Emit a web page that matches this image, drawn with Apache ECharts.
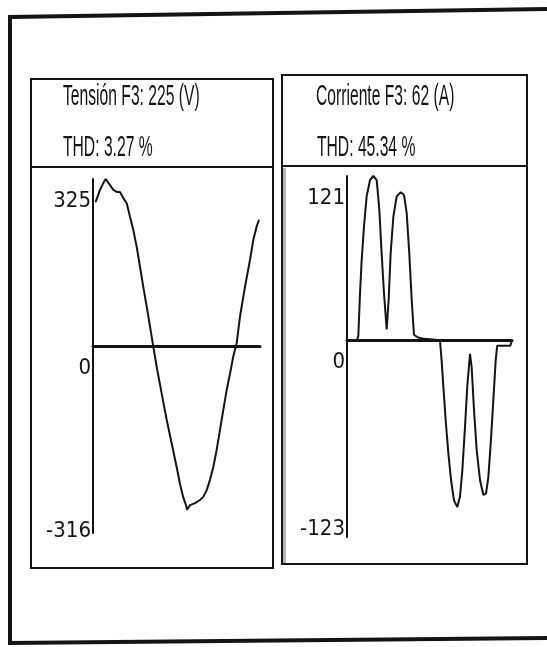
<!DOCTYPE html>
<html>
<head>
<meta charset="utf-8">
<script src="https://cdn.jsdelivr.net/npm/echarts@6/dist/echarts.min.js"></script>
<style>
  html, body { margin: 0; padding: 0; background: #fff; }
  #main { width: 547px; height: 647px; }
</style>
</head>
<body>
<div id="main"></div>
<script>
// Phase F3 voltage waveform: time (ms) and instantaneous value (V)
const voltTime = [0.3, 0.84, 1.23, 1.52, 2.04, 2.43, 2.84, 3.23, 3.63, 4.04, 4.43, 4.83, 5.23, 5.63, 6.02, 6.43, 6.83, 7.15, 7.63, 8.23, 8.83, 9.43, 10.03, 10.42, 10.81, 11.14, 11.26, 11.62, 12.22, 12.81, 13.21, 13.62, 14.01, 14.41, 14.81, 15.21, 15.60, 16.01, 16.41, 16.80, 17.21, 17.60, 18.20, 18.80, 19.20, 19.60, 19.88];
const voltValues = [280, 304, 317, 325, 313, 304, 300, 300, 288, 278, 252, 226, 194, 155, 116, 78, 39, 7, -39, -91, -142, -188, -234, -266, -292, -307, -316, -307, -303, -297, -291, -278, -258, -233, -200, -161, -123, -84, -52, -19, 7, 58, 116, 168, 207, 233, 246];

// Phase F3 current waveform: time (ms) and instantaneous value (A)
const currTime = [0, 1.21, 1.37, 1.58, 1.78, 2.06, 2.38, 2.79, 3.19, 3.6, 3.92, 4.2, 4.48, 4.81, 5.05, 5.29, 5.62, 6.02, 6.51, 6.91, 7.23, 7.55, 7.84, 8.12, 8.6, 9.4, 11.27, 11.47, 11.68, 11.96, 12.28, 12.61, 12.97, 13.37, 13.7, 13.98, 14.3, 14.58, 14.91, 15.11, 15.39, 15.72, 16.12, 16.53, 16.85, 17.13, 17.42, 17.74, 18.02, 18.21, 19.8, 20];
const currValues = [0, 0, 3, 35, 59, 84, 106, 118, 121, 118, 96, 64, 35, 8, 30, 64, 91, 106, 109, 107, 94, 64, 30, 4, 2, 1, 0, -15, -34, -59, -83, -103, -118, -123, -115, -96, -64, -34, -10, -20, -51, -81, -103, -114, -113, -101, -76, -44, -15, -4, -4, 0];

// Tick labels shown on each vertical axis
const voltTicks = [325, 0, -316];
const currTicks = [121, 0, -123];

// Panel headings
const voltTitle = 'Tensión F3: 225 (V)';
const voltThd = 'THD: 3.27 %';
const currTitle = 'Corriente F3: 62 (A)';
const currThd = 'THD: 45.34 %';

const ink = '#141414';
const pairs = (t, v) => t.map((x, i) => [x, v[i]]);

const chart = echarts.init(document.getElementById('main'), null, { renderer: 'canvas' });

const labelFont = '"Liberation Sans Narrow", "DejaVu Sans Condensed", "Liberation Sans", sans-serif';

function yAxisFor(gridIndex, min, max, ticks) {
  return {
    type: 'value', gridIndex, min, max,
    axisLine: { show: true, lineStyle: { color: ink, width: 2 } },
    axisTick: { show: false },
    splitLine: { show: false },
    axisLabel: {
      customValues: ticks,
      color: ink,
      fontFamily: labelFont,
      fontSize: 22,
      margin: 2,
      // labels sit a little below their tick value
      verticalAlign: 'top',
      lineHeight: 44
    }
  };
}

function xAxisFor(gridIndex) {
  return {
    type: 'value', gridIndex, min: 0, max: 20,
    axisLine: { show: true, onZero: true, lineStyle: { color: ink, width: 3 } },
    axisTick: { show: false },
    axisLabel: { show: false },
    splitLine: { show: false }
  };
}

function heading(text, x, y) {
  return {
    type: 'text', x, y, scaleX: 0.54,
    style: {
      text, fill: ink,
      font: '29px "Liberation Sans", Arial, sans-serif',
      verticalAlign: 'middle', align: 'left'
    }
  };
}

function seg(x1, y1, x2, y2, w, color) {
  return {
    type: 'line',
    shape: { x1, y1, x2, y2 },
    style: { stroke: color || ink, lineWidth: w }
  };
}

chart.setOption({
  backgroundColor: '#ffffff',
  animation: false,
  grid: [
    { left: 93, top: 179, width: 167, height: 354 },
    { left: 347, top: 176, width: 165, height: 361 }
  ],
  xAxis: [xAxisFor(0), xAxisFor(1)],
  yAxis: [
    yAxisFor(0, -361, 325, voltTicks),
    yAxisFor(1, -145, 121, currTicks)
  ],
  series: [
    {
      type: 'line', xAxisIndex: 0, yAxisIndex: 0,
      data: pairs(voltTime, voltValues),
      showSymbol: false, clip: false,
      lineStyle: { color: ink, width: 2 }
    },
    {
      type: 'line', xAxisIndex: 1, yAxisIndex: 1,
      data: pairs(currTime, currValues),
      showSymbol: false, clip: false,
      lineStyle: { color: ink, width: 2 }
    }
  ],
  graphic: [
    // outer frame
    { type: 'polyline', shape: { points: [[10, 645], [10, 17], [547, 9]] }, style: { stroke: ink, lineWidth: 4, fill: null } },
    seg(8, 643, 547, 638, 4),
    // voltage panel
    { type: 'rect', shape: { x: 31, y: 79, width: 242, height: 489 }, style: { stroke: ink, lineWidth: 2, fill: null } },
    seg(31, 167, 273, 167, 2),
    // current panel
    { type: 'rect', shape: { x: 282, y: 75, width: 245, height: 489 }, style: { stroke: ink, lineWidth: 2, fill: null } },
    seg(282, 166, 527, 166, 2),
    seg(284.5, 168, 284.5, 563, 3, '#b4b4b4'),
    heading(voltTitle, 63, 97),
    heading(voltThd, 63, 148),
    heading(currTitle, 316, 97),
    heading(currThd, 317, 148)
  ]
});
</script>
</body>
</html>
